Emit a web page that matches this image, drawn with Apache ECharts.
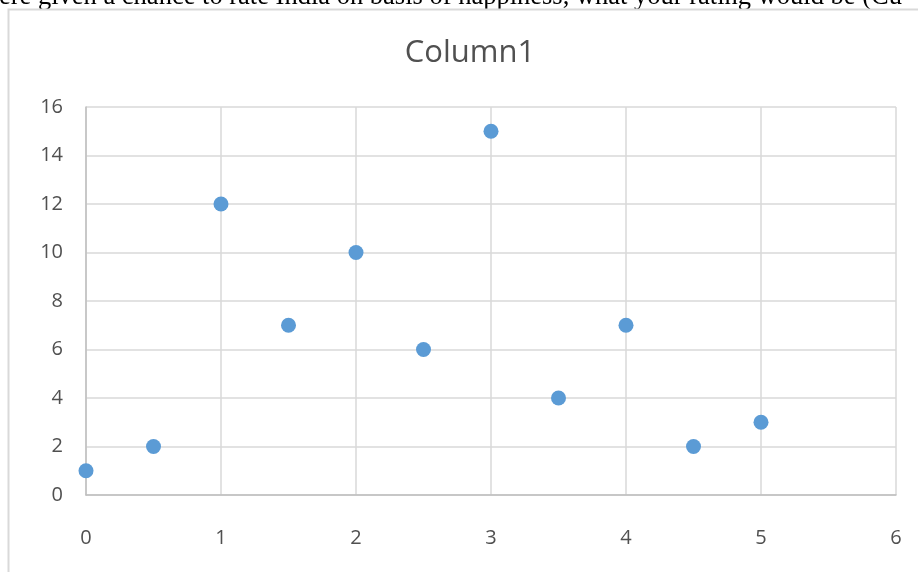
<!DOCTYPE html>
<html>
<head>
<meta charset="utf-8">
<script src="https://cdn.jsdelivr.net/npm/echarts@6/dist/echarts.min.js"></script>
<style>
  html, body { margin: 0; padding: 0; background: #ffffff; }
  #chart { width: 918px; height: 572px; }
</style>
</head>
<body>
<div id="chart"></div>
<script>
// Ratings (x) and number of responses (y)
var ratings = [0, 0.5, 1, 1.5, 2, 2.5, 3, 3.5, 4, 4.5, 5];
var counts = [1, 2, 12, 7, 10, 6, 15, 4, 7, 2, 3];
var seriesName = 'Column1';
var headingText = 'ere given a chance to rate India on basis of happiness, what your rating would be (Cu';

var points = ratings.map(function (r, i) { return [r, counts[i]]; });

var labelColor = '#505050';
var gridColor = '#D9D9D9';
var axisColor = '#BFBFBF';
var uiFont = '"Open Sans", "Liberation Sans", sans-serif';

var chart = echarts.init(document.getElementById('chart'), null, { renderer: 'canvas' });
chart.setOption({
  backgroundColor: '#ffffff',
  animation: false,
  graphic: [
    {
      type: 'text',
      left: -1,
      top: -16,
      style: {
        text: headingText,
        font: '26.5px "Liberation Serif", "Times New Roman", serif',
        fill: '#000000'
      }
    },
    {
      type: 'rect',
      shape: { x: 8.5, y: 9.5, width: 940, height: 600 },
      style: { fill: 'none', stroke: '#D9D9D9', lineWidth: 2 }
    },
    {
      type: 'text',
      x: 470,
      y: 53,
      style: {
        text: seriesName,
        font: '31px ' + uiFont,
        fill: labelColor,
        textAlign: 'center',
        textVerticalAlign: 'middle'
      }
    }
  ],
  grid: { left: 86, right: 22, top: 107, bottom: 77, containLabel: false },
  xAxis: {
    type: 'value',
    min: 0,
    max: 6,
    interval: 1,
    axisLine: { show: true, lineStyle: { color: axisColor, width: 1.5 } },
    axisTick: { show: false },
    splitLine: { show: true, lineStyle: { color: gridColor, width: 1.5 } },
    axisLabel: { color: labelColor, fontSize: 20, fontFamily: uiFont, margin: 33 }
  },
  yAxis: {
    type: 'value',
    min: 0,
    max: 16,
    interval: 2,
    axisLine: { show: true, lineStyle: { color: axisColor, width: 1.5 } },
    axisTick: { show: false },
    splitLine: { show: true, lineStyle: { color: gridColor, width: 1.5 } },
    axisLabel: { color: labelColor, fontSize: 20, fontFamily: uiFont, margin: 23 }
  },
  series: [
    {
      name: seriesName,
      type: 'scatter',
      data: points,
      symbol: 'circle',
      symbolSize: 15,
      itemStyle: { color: '#5B9BD5', opacity: 1 }
    }
  ]
});
</script>
</body>
</html>
